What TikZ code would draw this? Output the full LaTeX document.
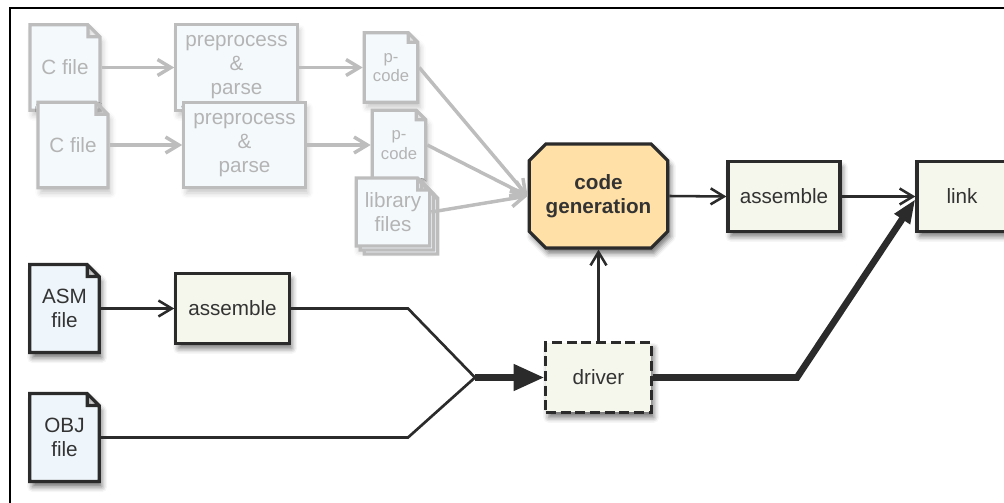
\documentclass[tikz,border=0pt]{standalone}
\usepackage{fontspec}
\setmainfont{Liberation Sans}
\usetikzlibrary{arrows.meta,shapes.misc,shadows,shadows.blur}

\definecolor{inkdark}{HTML}{2B2B2B}
\definecolor{textdark}{HTML}{333333}
\definecolor{fileblue}{HTML}{EFF6FB}
\definecolor{boxcream}{HTML}{F6F7EC}
\definecolor{gencolor}{HTML}{FFE0A6}
\definecolor{fadeline}{HTML}{BDBDBD}
\definecolor{fadetext}{HTML}{B4B4B4}

% page with a folded top right corner
\pgfkeys{/pgf/fold size/.initial=9pt}
\makeatletter
\pgfdeclareshape{docpage}{
  \inheritsavedanchors[from=rectangle]
  \inheritanchorborder[from=rectangle]
  \inheritanchor[from=rectangle]{center}
  \inheritanchor[from=rectangle]{north}
  \inheritanchor[from=rectangle]{south}
  \inheritanchor[from=rectangle]{east}
  \inheritanchor[from=rectangle]{west}
  \inheritanchor[from=rectangle]{north east}
  \inheritanchor[from=rectangle]{north west}
  \inheritanchor[from=rectangle]{south east}
  \inheritanchor[from=rectangle]{south west}
  \inheritanchor[from=rectangle]{base}
  \inheritanchor[from=rectangle]{mid}
  \backgroundpath{
    \pgfmathsetlength\pgfutil@tempdima{\pgfkeysvalueof{/pgf/fold size}}%
    \pgfmathsetlength\pgf@xc{\pgfkeysvalueof{/pgf/outer xsep}}%
    \pgfmathsetlength\pgf@yc{\pgfkeysvalueof{/pgf/outer ysep}}%
    \southwest \advance\pgf@x by\pgf@xc \advance\pgf@y by\pgf@yc
    \pgf@xa=\pgf@x \pgf@ya=\pgf@y
    \northeast \advance\pgf@x by-\pgf@xc \advance\pgf@y by-\pgf@yc
    \pgf@xb=\pgf@x \pgf@yb=\pgf@y
    \pgfpathmoveto{\pgfqpoint{\pgf@xa}{\pgf@ya}}
    \pgfpathlineto{\pgfqpoint{\pgf@xa}{\pgf@yb}}
    \pgfpathlineto{\pgfqpoint{\dimexpr\pgf@xb-\pgfutil@tempdima\relax}{\pgf@yb}}
    \pgfpathlineto{\pgfqpoint{\pgf@xb}{\dimexpr\pgf@yb-\pgfutil@tempdima\relax}}
    \pgfpathlineto{\pgfqpoint{\pgf@xb}{\pgf@ya}}
    \pgfpathclose
    \pgfpathmoveto{\pgfqpoint{\dimexpr\pgf@xb-\pgfutil@tempdima\relax}{\pgf@yb}}
    \pgfpathlineto{\pgfqpoint{\dimexpr\pgf@xb-\pgfutil@tempdima\relax}{\dimexpr\pgf@yb-\pgfutil@tempdima\relax}}
    \pgfpathlineto{\pgfqpoint{\pgf@xb}{\dimexpr\pgf@yb-\pgfutil@tempdima\relax}}
  }
}
\makeatother

\tikzset{
  base/.style={line width=2.4pt, draw=inkdark, text=textdark, align=center,
    inner sep=1pt, font=\fontsize{15.5}{18}\selectfont},
  dropshade/.style={blur shadow={shadow xshift=2pt, shadow yshift=-4pt,
    shadow blur radius=4pt, shadow opacity=#1}},
  dropshade/.default=55,
  docfile/.style={base, shape=docpage, fill=fileblue},
  stepbox/.style={base, rectangle, fill=boxcream},
  faded/.style={draw=fadeline, text=fadetext, fill=fileblue!70!white, dropshade=22},
  smalltext/.style={font=\fontsize{12.5}{14.5}\selectfont},
  flow/.style={line width=1.9pt, draw=inkdark, -{Straight Barb[length=10pt,width=12pt]}},
  fadedflow/.style={line width=2.6pt, draw=fadeline, -{Straight Barb[length=10pt,width=12pt]}},
  heavyflow/.style={line width=5pt, draw=inkdark, line join=miter},
}

\begin{document}
\begin{tikzpicture}[x=0.75pt, y=-0.75pt]
	\useasboundingbox (0,0) rectangle (1004,503);
	\draw[line width=2.2pt, black] (10,503) -- (10,8) -- (1004,8);

	% faded front end: two C files
	\foreach \r/\dx/\y in {1/0/67.5, 2/8/145} {
		\node[docfile, faded, minimum width=52.5pt, minimum height=64pt] (cfile\r) at (65+\dx,\y) {C file};
		\node[stepbox, faded, minimum width=91pt, minimum height=64pt] (parse\r) at (236.5+\dx,\y) {preprocess\\\&\\parse};
		\node[docfile, faded, smalltext, fold size=7pt, minimum width=40pt, minimum height=52pt] (pcode\r) at (391+\dx,\y) {p-\\code};
		\draw[fadedflow] (cfile\r.east) -- (parse\r.west);
		\draw[fadedflow] (parse\r.east) -- (pcode\r.west);
	}
	\node[docfile, faded, minimum width=55pt, minimum height=51pt,
		double copy shadow={shadow xshift=3pt, shadow yshift=-3pt}] (libfiles) at (393,212) {library\\files};

	% back end
	\node[stepbox, dropshade, chamfered rectangle, chamfered rectangle xsep=9pt,
		fill=gencolor, minimum width=104pt, minimum height=78pt,
		font=\fontsize{15.5}{18}\selectfont\bfseries] (codegen) at (598.5,196) {code\\generation};
	\node[stepbox, dropshade, minimum width=84pt, minimum height=52pt] (asmtop) at (784,196.5) {assemble};
	\node[stepbox, dropshade, minimum width=67.5pt, minimum height=52pt] (link) at (962,196.5) {link};

	\node[docfile, dropshade, minimum width=52pt, minimum height=66pt] (asmfile) at (64.5,308.5) {ASM\\file};
	\node[docfile, dropshade, minimum width=52pt, minimum height=66pt] (objfile) at (64.5,437.5) {OBJ\\file};
	\node[stepbox, dropshade, minimum width=85pt, minimum height=52pt] (asmbot) at (232.5,308.5) {assemble};
	\node[stepbox, dropshade, dash pattern=on 7.5pt off 3.5pt, minimum width=79pt, minimum height=52pt] (driver) at (598.5,377.5) {driver};

	\coordinate (asmbend) at (408,308.5);
	\coordinate (objbend) at (408,437.5);
	\coordinate (merge) at (475,377.5);
	\coordinate (drvbend) at (797,377.5);

	\foreach \src in {pcode1, pcode2, libfiles}
		\draw[fadedflow] (\src.east) -- (codegen.west);

	\draw[flow] (codegen.east) -- (asmtop.west);
	\draw[flow] (asmtop.east) -- (link.west);
	\draw[flow] (asmfile.east) -- (asmbot.west);
	\draw[flow] (driver.north) -- (codegen.south);

	\draw[line width=2pt, inkdark, line join=miter] (asmbot.east) -- (asmbend) -- (merge);
	\draw[line width=2pt, inkdark, line join=miter] (objfile.east) -- (objbend) -- (merge);
	\draw[heavyflow, -{Triangle[length=23pt,width=19pt]}] (merge) -- (driver.west);
	\draw[heavyflow, -{Triangle[length=18pt,width=13pt]}] (driver.east) -- (drvbend) -- ([yshift=-2pt]link.west);
\end{tikzpicture}
\end{document}
